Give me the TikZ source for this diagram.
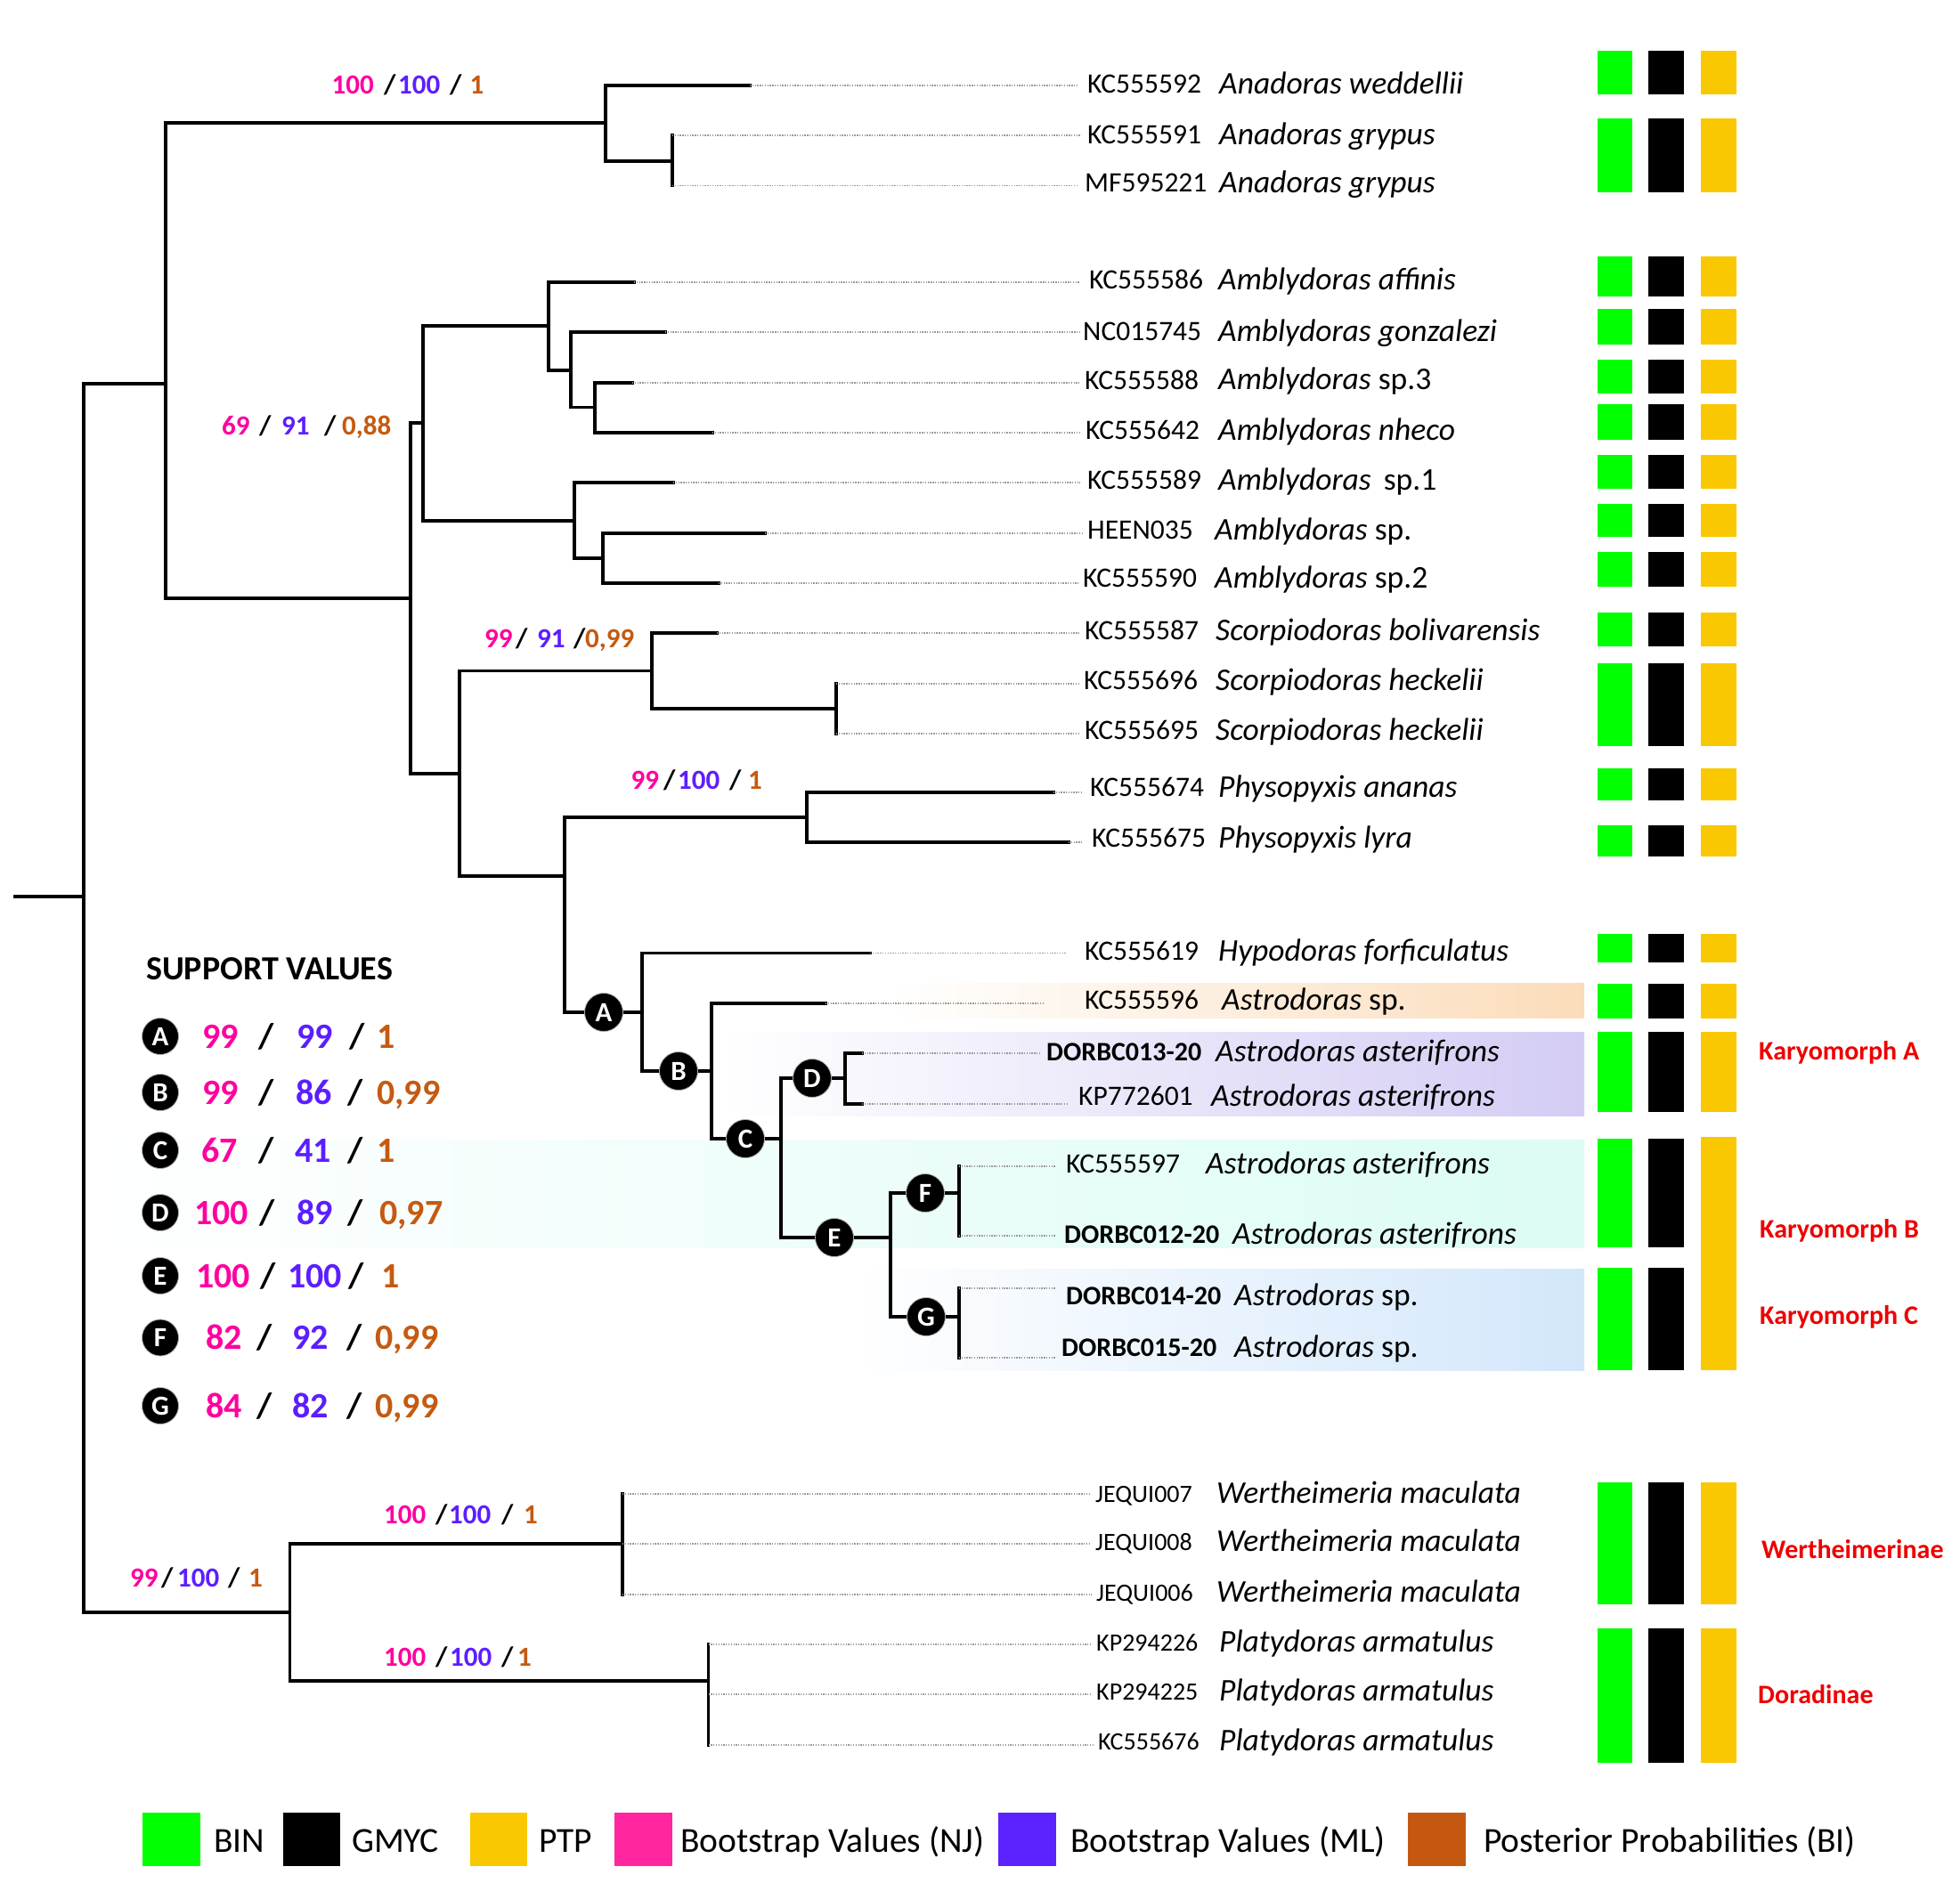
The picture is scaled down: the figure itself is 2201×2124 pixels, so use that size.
\documentclass[tikz,border=0pt]{standalone}
\usepackage{fontspec}
\setmainfont{Carlito}
\definecolor{pkc}{RGB}{255,0,160}
\definecolor{puc}{RGB}{92,30,255}
\definecolor{brc}{RGB}{197,90,17}
\definecolor{gbin}{RGB}{0,255,0}
\definecolor{yptp}{RGB}{249,200,0}
\definecolor{kred}{RGB}{238,0,0}
\definecolor{pkleg}{RGB}{255,38,160}
\definecolor{puleg}{RGB}{92,34,255}
\definecolor{brleg}{RGB}{197,88,17}
\definecolor{orR}{RGB}{251,220,186}
\definecolor{orM}{RGB}{255,244,218}
\definecolor{prR}{RGB}{212,204,244}
\definecolor{prM}{RGB}{238,235,251}
\definecolor{tlR}{RGB}{220,252,245}
\definecolor{tlM}{RGB}{248,255,253}
\definecolor{blR}{RGB}{211,231,251}
\definecolor{blM}{RGB}{238,245,253}
\newcounter{labn}
\newcommand\lab[4]{\stepcounter{labn}\node[#1,text=#2] (lab\thelabn) at #3 {#4};}
\newcommand\trip[9]{%
 \lab{#1}{pkc}{(#3,#2)}{#4}%
 \lab{#1}{black}{(#5,#2)}{/}%
 \lab{#1}{puc}{(#6,#2)}{#7}%
 \lab{#1}{black}{(#8,#2)}{/}%
 \tripend{#1}{#2}{#9}}
\newcommand\tripend[4]{\lab{#1}{brc}{(#3,#2)}{#4}}
% id, yline, ytext, dot end, acc x, acc, sp x, species
\newcommand\leaf[8]{%
 \draw[leader] (t#1) -- (#4,#2);
 \node[acc] (a#1) at (#5,#3+10) {#6};
 \node[spc] (s#1) at (#7,#3+11) {#8};}
\newcommand\bx[2]{%
 \fill[gbin] (1794,#1) rectangle (1833,#2);
 \fill[black] (1851,#1) rectangle (1891,#2);
 \fill[yptp] (1910,#1) rectangle (1950,#2);}
\newcommand\bacc{\fontsize{30}{34}\selectfont\bfseries}
\newcommand\sacc{\fontsize{28}{32}\selectfont}
\begin{document}
\begin{tikzpicture}[x=1pt,y=-1pt,
  brl/.style={line width=3.2pt, line cap=rect, line join=miter},
  leader/.style={gray!80, line width=1.3pt, dash pattern=on 1.3pt off 1.5pt},
  acc/.style={inner sep=0pt, anchor=base west, font=\fontsize{31.5}{36}\selectfont},
  spc/.style={inner sep=0pt, anchor=base west, font=\fontsize{35.5}{40}\selectfont\itshape},
  circ/.style={circle, fill=black, draw=gray!60, line width=0.8pt, inner sep=0pt, minimum size=43pt, text=white, font=\fontsize{31}{31}\selectfont\bfseries},
  circs/.style={circ, minimum size=41pt},
  sup/.style={inner sep=0pt, anchor=base west, font=\fontsize{31}{34}\selectfont\bfseries},
  svl/.style={inner sep=0pt, anchor=base west, font=\fontsize{40}{44}\selectfont\bfseries},
  kary/.style={inner sep=0pt, anchor=base west, text=kred, font=\fontsize{30}{34}\selectfont\bfseries},
  leg/.style={inner sep=0pt, anchor=base west, font=\fontsize{39.5}{43}\selectfont}]
\fill[white] (0,0) rectangle (2201,2124);
\useasboundingbox (0,0) rectangle (2201,2124);

% ---------- shaded bands ----------
\shade[left color=white, middle color=orM, right color=orR] (1000,1104) rectangle (1779,1143);
\shade[left color=white, middle color=prM, right color=prR] (813,1159) rectangle (1779,1253);
\shade[left color=white, middle color=tlM, right color=tlR] (100,1280) rectangle (1779,1401);
\shade[left color=white, middle color=blM, right color=blR] (960,1425) rectangle (1779,1539);

% ---------- tree coordinates ----------
\coordinate (root0) at (17,1007);
\coordinate (root) at (94,1007);
\coordinate (n1) at (186,431);
\coordinate (n5) at (325.5,1811);
\coordinate (nAna) at (680,138);
\coordinate (nGry) at (755,181);
\coordinate (n2) at (461,672);
\coordinate (nAmb) at (475,475);
\coordinate (nA1) at (616,366);
\coordinate (nA2) at (641,416);
\coordinate (nA3) at (668,457.6);
\coordinate (nB1) at (645,585);
\coordinate (nB2) at (677,627);
\coordinate (n3) at (516,869);
\coordinate (nSco) at (732,753.6);
\coordinate (nHec) at (939,796);
\coordinate (n4) at (634,984);
\coordinate (nPhy) at (906,918);
\coordinate (pA) at (678,1137);
\coordinate (nA) at (721,1137);
\coordinate (pB) at (762,1203);
\coordinate (nB) at (799,1203);
\coordinate (pC) at (837,1279);
\coordinate (nC) at (877,1279);
\coordinate (pD) at (912,1211);
\coordinate (nD) at (949,1211);
\coordinate (pE) at (937,1390);
\coordinate (nE) at (1000,1390);
\coordinate (pF) at (1039,1340);
\coordinate (nF) at (1077,1340);
\coordinate (pG) at (1040,1479);
\coordinate (nG) at (1077,1479);
\coordinate (nWer) at (699,1734);
\coordinate (nPla) at (795.5,1888);
% tips
\coordinate (t1) at (842,96);
\coordinate (t2) at (755,152);
\coordinate (t3) at (755,208.5);
\coordinate (t4) at (712,317);
\coordinate (t5) at (747,373);
\coordinate (t6) at (710,430);
\coordinate (t7) at (800,486);
\coordinate (t8) at (756,542);
\coordinate (t9) at (859,599);
\coordinate (t10) at (807,655);
\coordinate (t11) at (805,711);
\coordinate (t12) at (939,768);
\coordinate (t13) at (939,824);
\coordinate (t14) at (1183,890);
\coordinate (t15) at (1200,946);
\coordinate (t16) at (977,1070.5);
\coordinate (t17) at (927,1127);
\coordinate (t18) at (968,1183);
\coordinate (t19) at (968,1240);
\coordinate (t20) at (1077,1310);
\coordinate (t21) at (1077,1388);
\coordinate (t22) at (1077,1447);
\coordinate (t23) at (1077,1525);
\coordinate (t24) at (699,1678);
\coordinate (t25) at (699,1734);
\coordinate (t26) at (699,1791);
\coordinate (t27) at (795.5,1847);
\coordinate (t28) at (795.5,1903);
\coordinate (t29) at (795.5,1960);

% ---------- branches ----------
\draw[brl] (root0) -- (root);
\draw[brl] (root) |- (n1);
\draw[brl] (root) |- (n5);
\draw[brl] (n1) |- (nAna);
\draw[brl] (n1) |- (n2);
\draw[brl] (nAna) |- (t1);
\draw[brl] (nAna) |- (nGry);
\draw[brl] (nGry) |- (t2);
\draw[brl] (nGry) |- (t3);
\draw[brl] (n2) |- (nAmb);
\draw[brl] (n2) |- (n3);
\draw[brl] (nAmb) |- (nA1);
\draw[brl] (nAmb) |- (nB1);
\draw[brl] (nA1) |- (t4);
\draw[brl] (nA1) |- (nA2);
\draw[brl] (nA2) |- (t5);
\draw[brl] (nA2) |- (nA3);
\draw[brl] (nA3) |- (t6);
\draw[brl] (nA3) |- (t7);
\draw[brl] (nB1) |- (t8);
\draw[brl] (nB1) |- (nB2);
\draw[brl] (nB2) |- (t9);
\draw[brl] (nB2) |- (t10);
\draw[brl] (n3) |- (nSco);
\draw[brl] (n3) |- (n4);
\draw[brl] (nSco) |- (t11);
\draw[brl] (nSco) |- (nHec);
\draw[brl] (nHec) |- (t12);
\draw[brl] (nHec) |- (t13);
\draw[brl] (n4) |- (nPhy);
\draw[brl] (nPhy) |- (t14);
\draw[brl] (nPhy) |- (t15);
\draw[brl] (n4) |- (pA) -- (nA);
\draw[brl] (nA) |- (t16);
\draw[brl] (nA) |- (pB) -- (nB);
\draw[brl] (nB) |- (t17);
\draw[brl] (nB) |- (pC) -- (nC);
\draw[brl] (nC) |- (pD) -- (nD);
\draw[brl] (nD) |- (t18);
\draw[brl] (nD) |- (t19);
\draw[brl] (nC) |- (pE) -- (nE);
\draw[brl] (nE) |- (pF) -- (nF);
\draw[brl] (nF) |- (t20);
\draw[brl] (nF) |- (t21);
\draw[brl] (nE) |- (pG) -- (nG);
\draw[brl] (nG) |- (t22);
\draw[brl] (nG) |- (t23);
\draw[brl] (n5) |- (nWer);
\draw[brl] (n5) |- (nPla);
\draw[brl] (nWer) |- (t24);
\draw[brl] (nWer) |- (t25);
\draw[brl] (nWer) |- (t26);
\draw[brl] (nPla) |- (t27);
\draw[brl] (nPla) |- (t28);
\draw[brl] (nPla) |- (t29);

% ---------- node circles ----------
\node[circ] (cA) at (pA) {A};
\node[circ] (cB) at (pB) {B};
\node[circ] (cC) at (pC) {C};
\node[circ] (cD) at (pD) {D};
\node[circ] (cE) at (pE) {E};
\node[circ] (cF) at (pF) {F};
\node[circ] (cG) at (pG) {G};

% ---------- leaves ----------
\leaf{1}{96}{94.6}{1210}{1221}{KC555592}{1369}{Anadoras weddellii}
\leaf{2}{152}{151.8}{1214}{1221}{KC555591}{1369}{Anadoras grypus}
\leaf{3}{208.5}{206}{1209}{1218}{MF595221}{1369}{Anadoras grypus}
\leaf{4}{317}{314.7}{1213}{1223}{KC555586}{1368}{Amblydoras affinis}
\leaf{5}{373}{372.8}{1212}{1216}{NC015745}{1368}{Amblydoras gonzalezi}
\leaf{6}{430}{427}{1212}{1218}{KC555588}{1368}{Amblydoras\upshape\ sp.3}
\leaf{7}{486}{483}{1214}{1219}{KC555642}{1368}{Amblydoras nheco}
\leaf{8}{542}{539}{1213}{1221}{KC555589}{1368}{Amblydoras\upshape\hspace{14pt}sp.1}
\leaf{9}{599}{595}{1217}{1221}{HEEN035}{1364}{Amblydoras\upshape\ sp.}
\leaf{10}{655}{649.6}{1211}{1216}{KC555590}{1364}{Amblydoras\upshape\ sp.2}
\leaf{11}{711}{708}{1212}{1218}{KC555587}{1365}{Scorpiodoras bolivarensis}
\leaf{12}{768}{764}{1211}{1217}{KC555696}{1365}{Scorpiodoras heckelii}
\leaf{13}{824}{820.5}{1212}{1218}{KC555695}{1365}{Scorpiodoras heckelii}
\leaf{14}{890}{884}{1216}{1224}{KC555674}{1368}{Physopyxis ananas}
\leaf{15}{946}{941}{1216}{1226}{KC555675}{1368}{Physopyxis lyra}
\leaf{16}{1070.5}{1068}{1197}{1218}{KC555619}{1368}{Hypodoras forficulatus}
\leaf{17}{1127}{1123}{1172}{1218}{KC555596}{1372}{Astrodoras\upshape\ sp.}
\leaf{18}{1183}{1181}{1168}{1175}{\bacc DORBC013-20}{1365}{Astrodoras asterifrons}
\leaf{19}{1240}{1231}{1200}{1211}{KP772601}{1360}{Astrodoras asterifrons}
\leaf{20}{1310}{1307}{1185}{1197}{KC555597}{1354}{Astrodoras asterifrons}
\leaf{21}{1388}{1386}{1185}{1195}{\bacc DORBC012-20}{1384}{Astrodoras asterifrons}
\leaf{22}{1447}{1455}{1186}{1197}{\bacc DORBC014-20}{1386}{Astrodoras\upshape\ sp.}
\leaf{23}{1525}{1513}{1186}{1192}{\bacc DORBC015-20}{1386}{Astrodoras\upshape\ sp.}
\leaf{24}{1678}{1677}{1225}{1230}{\sacc JEQUI007}{1366}{Wertheimeria maculata}
\leaf{25}{1734}{1731.5}{1225}{1230}{\sacc JEQUI008}{1366}{Wertheimeria maculata}
\leaf{26}{1791}{1788}{1226}{1231}{\sacc JEQUI006}{1366}{Wertheimeria maculata}
\leaf{27}{1847}{1844.6}{1226}{1231}{\sacc KP294226}{1369}{Platydoras armatulus}
\leaf{28}{1903}{1899.5}{1226}{1231}{\sacc KP294225}{1369}{Platydoras armatulus}
\leaf{29}{1960}{1955}{1228}{1233}{\sacc KC555676}{1369}{Platydoras armatulus}

% ---------- branch support labels ----------
\trip{sup}{106}{372.5}{100}{431}{447}{100}{505}{527.5}{1}
\trip{sup}{488.6}{249}{69}{291}{316}{91}{364}{384}{0,88}
\trip{sup}{727}{544}{99}{579}{603}{91}{644}{657}{0,99}
\trip{sup}{886}{708.5}{99}{745}{761}{100}{819}{840}{1}
\trip{sup}{1711}{431}{100}{489}{504}{100}{563}{588}{1}
\trip{sup}{1782.6}{146}{99}{181}{199}{100}{256}{279}{1}
\trip{sup}{1871}{431}{100}{489}{505}{100}{563}{581}{1}

% ---------- support values legend ----------
\node[inner sep=0pt, anchor=base west, font=\fontsize{38}{40}\selectfont\bfseries] (svt) at (164,1100) {SUPPORT VALUES};
\node[circs] (sA) at (180,1164) {A};
\node[circs] (sB) at (180,1227) {B};
\node[circs] (sC) at (180,1292) {C};
\node[circs] (sD) at (180,1362) {D};
\node[circs] (sE) at (180,1433) {E};
\node[circs] (sF) at (180,1502.5) {F};
\node[circs] (sG) at (180,1579) {G};
\trip{svl}{1177}{227}{99}{290}{333}{99}{392}{423}{1}
\trip{svl}{1240}{227}{99}{290}{332}{86}{390}{423}{0,99}
\trip{svl}{1305}{226}{67}{290}{331}{41}{390}{423}{1}
\trip{svl}{1375}{218}{100}{291}{333}{89}{390}{426}{0,97}
\trip{svl}{1446}{220}{100}{292}{323}{100}{391}{428}{1}
\trip{svl}{1515.5}{231}{82}{288}{328}{92}{389}{421}{0,99}
\trip{svl}{1592}{231}{84}{288}{328}{82}{389}{421}{0,99}

% ---------- delimitation boxes ----------
\bx{57}{106}
\bx{133}{216.5}
\bx{288}{333.5}
\bx{347}{387}
\bx{404}{442}
\bx{453.6}{494}
\bx{511}{549}
\bx{566}{603}
\bx{620}{659}
\bx{687.5}{726}
\bx{745}{838}
\bx{863}{899}
\bx{927}{962}
\bx{1049}{1081}
\bx{1105}{1144}
\bx{1159}{1249}
\fill[gbin] (1794,1279) rectangle (1833,1401);
\fill[black] (1851,1279) rectangle (1891,1401);
\fill[gbin] (1794,1424) rectangle (1833,1539);
\fill[black] (1851,1424) rectangle (1891,1539);
\fill[yptp] (1910,1277) rectangle (1950,1539);
\bx{1664.5}{1801.6}
\bx{1829}{1980}

% ---------- group labels ----------
\node[kary] (kA) at (1975,1190) {Karyomorph A};
\node[kary] (kB) at (1976,1390) {Karyomorph B};
\node[kary] (kC) at (1976,1487) {Karyomorph C};
\node[kary] (kW) at (1978,1750) {Wertheimerinae};
\node[kary] (kD) at (1974,1913) {Doradinae};

% ---------- bottom legend ----------
\fill[gbin] (160,2036) rectangle (225,2096);
\fill[black] (318,2036) rectangle (382,2096);
\fill[yptp] (527.5,2036) rectangle (592,2096);
\fill[pkleg] (690,2036) rectangle (755,2096);
\fill[puleg] (1121,2036) rectangle (1186,2096);
\fill[brleg] (1581,2036) rectangle (1646,2096);
\node[leg] (lg1) at (240,2080) {BIN};
\node[leg] (lg2) at (395,2080) {GMYC};
\node[leg] (lg3) at (605,2080) {PTP};
\node[leg] (lg4) at (764,2080) {Bootstrap Values (NJ)};
\node[leg] (lg5) at (1202,2080) {Bootstrap Values (ML)};
\node[leg] (lg6) at (1666,2080) {Posterior Probabilities (BI)};
\end{tikzpicture}
\end{document}
